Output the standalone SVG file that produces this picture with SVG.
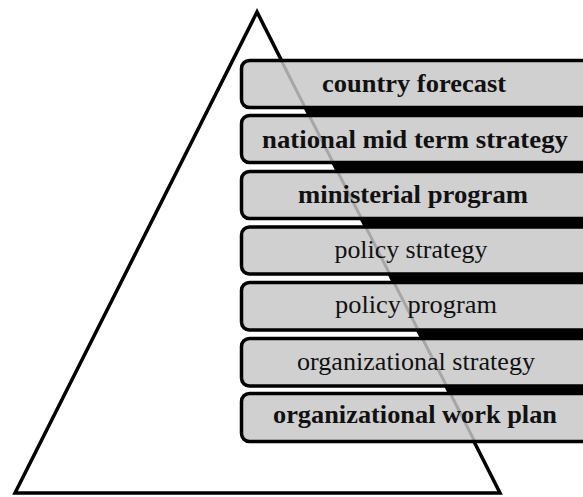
<svg xmlns="http://www.w3.org/2000/svg" width="583" height="497" viewBox="0 0 583 497">
  <style>
    .tier { fill: #d0d0d0; stroke: #000; stroke-width: 3.5; }
    .lbl { font-family: "Liberation Serif", "Times New Roman", serif; font-size: 25px; fill: #111; text-anchor: middle; }
    .b { font-weight: bold; }
  </style>
  <rect x="0" y="0" width="583" height="497" fill="#fff"/>

  <!-- pyramid outline -->
  <g id="pyramid">
    <polygon points="257,12 15,493 500,493" fill="none" stroke="#000" stroke-width="3.5" stroke-linejoin="miter"/>
    <!-- dark backing right of the pyramid edge, visible in the gaps between tiers -->
    <polygon points="281,59 583,59 583,443 475,443" fill="#000"/>
  </g>

  <g id="tiers">
    <g id="tier-country-forecast">
      <rect class="tier" x="241.5" y="60.5" width="360" height="47" rx="8"/>
    </g>
    <g id="tier-national-strategy">
      <rect class="tier" x="241.5" y="115.5" width="360" height="47" rx="8"/>
    </g>
    <g id="tier-ministerial-program">
      <rect class="tier" x="241.5" y="171.5" width="360" height="47" rx="8"/>
    </g>
    <g id="tier-policy-strategy">
      <rect class="tier" x="241.5" y="227" width="360" height="47" rx="8"/>
    </g>
    <g id="tier-policy-program">
      <rect class="tier" x="241.5" y="282.5" width="360" height="47.5" rx="8"/>
    </g>
    <g id="tier-org-strategy">
      <rect class="tier" x="241.5" y="338.5" width="360" height="47.5" rx="8"/>
    </g>
    <g id="tier-org-work-plan">
      <rect class="tier" x="241.5" y="393.5" width="360" height="48" rx="8"/>
    </g>
  </g>

  <!-- pyramid edge showing faintly through the tiers -->
  <line x1="281" y1="60" x2="475" y2="442" stroke="#000" stroke-opacity="0.2" stroke-width="3"/>

  <g id="labels">
    <text class="lbl b" x="414" y="92" textLength="184" lengthAdjust="spacingAndGlyphs">country forecast</text>
    <text class="lbl b" x="415" y="148" textLength="306" lengthAdjust="spacingAndGlyphs">national mid term strategy</text>
    <text class="lbl b" x="413" y="203" textLength="230" lengthAdjust="spacingAndGlyphs">ministerial program</text>
    <text class="lbl" x="411" y="258" textLength="153" lengthAdjust="spacingAndGlyphs">policy strategy</text>
    <text class="lbl" x="416" y="313" textLength="162" lengthAdjust="spacingAndGlyphs">policy program</text>
    <text class="lbl" x="416" y="370" textLength="238" lengthAdjust="spacingAndGlyphs">organizational strategy</text>
    <text class="lbl b" x="415" y="423" textLength="284" lengthAdjust="spacingAndGlyphs">organizational work plan</text>
  </g>
</svg>
